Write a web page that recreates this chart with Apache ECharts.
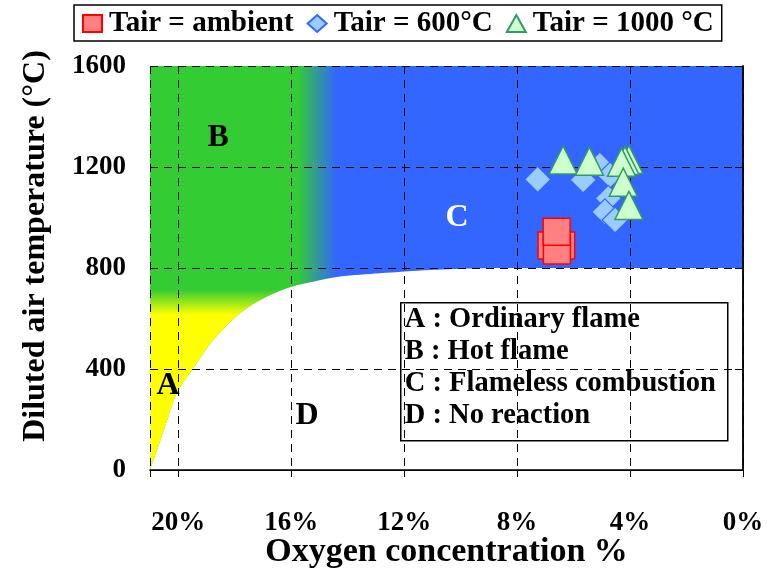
<!DOCTYPE html>
<html><head><meta charset="utf-8">
<script src="https://cdn.jsdelivr.net/npm/echarts@6/dist/echarts.min.js"></script>
<style>html,body{margin:0;padding:0;background:#fff}#c{width:773px;height:569px}</style>
</head><body><div id="c"></div>
<script>
const FONT = '"Liberation Serif","Times New Roman",serif';

// Axis ticks
const xTicks = [20, 16, 12, 8, 4, 0];
const yTicks = [0, 400, 800, 1200, 1600];

// Lower boundary of the combustion regions (O2 %, temperature °C)
const boundaryO2 = [21, 20.65, 20.35, 20.05, 19.47, 18.76, 17.81, 16.87, 15.98, 15.22, 14.27, 12.86, 11.08, 9.31, 8.0, 4, 0];
const boundaryT  = [0, 112, 211, 304, 403, 515, 621, 686, 726, 746, 766, 779, 792, 799, 800, 800, 800];
// Ordinary flame (A) part of the boundary
const ordinaryCount = 9;

// Measured points
const ambientO2 = [6.78, 6.44, 6.59, 6.60];
const ambientT  = [889, 889, 869, 944];
const t600O2 = [7.27, 5.66, 5.07, 4.71, 4.77, 4.89, 4.53];
const t600T  = [1151, 1149, 1208, 1168, 1076, 1022, 990];
const t1000O2 = [6.37, 5.44, 4.04, 4.18, 4.30, 4.24, 4.04];
const t1000T  = [1228, 1223, 1230, 1226, 1219, 1140, 1048];

// Region labels
const regionNames = ['A', 'B', 'C', 'D'];
const regionO2 = [20.36, 18.59, 10.13, 15.44];
const regionT  = [333, 1315, 998, 214];
const regionColors = ['#000', '#000', '#fff', '#000'];

const seriesNames = ['Tair = ambient', 'Tair = 600°C', 'Tair = 1000 °C'];
const boxLines = ['A : Ordinary flame', 'B : Hot flame', 'C : Flameless combustion', 'D : No reaction'];
const xTitle = 'Oxygen concentration %';
const yTitle = 'Diluted air temperature (°C)';

const zip = (a, b) => a.map((v, i) => [v, b[i]]);
const boundary = zip(boundaryO2, boundaryT);

const chart = echarts.init(document.getElementById('c'), null, {renderer: 'canvas'});
const bold = (size) => ({fontFamily: FONT, fontWeight: 'bold', fontSize: size, color: '#000'});

chart.setOption({
  animation: false,
  grid: {left: 150, right: 30, top: 66, bottom: 99, containLabel: false, outerBoundsMode: 'none'},
  legend: {
    data: seriesNames, left: 74, top: 5, padding: [4, 8, 3, 8], itemGap: 13,
    itemWidth: 19, itemHeight: 17, borderColor: '#000', borderWidth: 1.5,
    backgroundColor: '#fff', selectedMode: false,
    textStyle: Object.assign(bold(29), {padding: [2, 0, 0, 2]})
  },
  xAxis: [{
    type: 'value', min: 0, max: 21, interval: 4, inverse: true, z: 3,
    axisLine: {show: true, lineStyle: {color: '#000', width: 1.5}},
    axisTick: {show: true, length: 7, lineStyle: {color: '#000'}},
    axisLabel: Object.assign(bold(27), {margin: 40, formatter: v => xTicks.includes(v) ? v + '%' : ''}),
    splitLine: {show: true, lineStyle: {color: '#000', width: 1, type: [8, 6]}},
    name: xTitle, nameLocation: 'middle', nameGap: 65, nameMoveOverlap: false, nameTextStyle: bold(34)
  }, {
    type: 'value', min: 0, max: 21, inverse: true, position: 'top', z: 3,
    axisLine: {show: true, lineStyle: {color: '#000', width: 1}},
    axisTick: {show: false}, axisLabel: {show: false}, splitLine: {show: false}
  }],
  yAxis: [{
    type: 'value', min: 0, max: 1600, interval: 400, z: 3,
    axisLine: {show: true, lineStyle: {color: '#000', width: 1.5}},
    axisTick: {show: true, length: 8, lineStyle: {color: '#000'}},
    axisLabel: Object.assign(bold(27), {margin: 24, formatter: v => yTicks.includes(v) ? String(v) : ''}),
    splitLine: {show: true, lineStyle: {color: '#000', width: 1, type: [8, 6]}}
  }, {
    type: 'value', min: 0, max: 1600, position: 'right', z: 3,
    axisLine: {show: true, lineStyle: {color: '#000', width: 1.5}},
    axisTick: {show: false}, axisLabel: {show: false}, splitLine: {show: false}
  }],
  series: [{
    type: 'line', name: 'bgTop', data: boundary, z: 1, silent: true,
    showSymbol: false, smooth: 0.3, lineStyle: {width: 0, opacity: 0},
    areaStyle: {origin: 'end', opacity: 1, color: new echarts.graphic.LinearGradient(0, 0, 1, 0, [
      {offset: 0, color: '#33CC33'}, {offset: 0.248, color: '#33CC33'},
      {offset: 0.315, color: '#3366FF'}, {offset: 1, color: '#3366FF'}])}
  }, {
    type: 'line', name: 'bgYellow', data: boundary.slice(0, ordinaryCount), z: 1, silent: true,
    showSymbol: false, smooth: 0.3, lineStyle: {width: 0, opacity: 0},
    areaStyle: {origin: 'end', opacity: 1, color: new echarts.graphic.LinearGradient(0, 0, 0, 1, [
      {offset: 0, color: 'rgba(255,255,0,0)'}, {offset: 0.554, color: 'rgba(255,255,0,0)'},
      {offset: 0.616, color: '#FFFF00'}, {offset: 1, color: '#FFFF00'}])}
  }, {
    type: 'scatter', name: seriesNames[0], data: zip(ambientO2, ambientT), z: 5,
    symbol: 'rect', symbolSize: 27,
    itemStyle: {color: '#FF8080', borderColor: '#FF0000', borderWidth: 1.5, opacity: 1}
  }, {
    type: 'scatter', name: seriesNames[1], data: zip(t600O2, t600T), z: 5,
    symbol: 'diamond', symbolSize: 26,
    itemStyle: {color: '#99CCFF', borderColor: '#3366FF', borderWidth: 1.2, opacity: 1}
  }, {
    type: 'scatter', name: seriesNames[2], data: zip(t1000O2, t1000T), z: 5,
    symbol: 'triangle', symbolSize: 28,
    itemStyle: {color: '#CCFFCC', borderColor: '#339966', borderWidth: 1.5, opacity: 1}
  }, {
    type: 'scatter', name: 'regions', z: 6, silent: true, symbolSize: 1,
    itemStyle: {color: 'rgba(0,0,0,0)', opacity: 1},
    data: regionNames.map((n, i) => ({
      value: [regionO2[i], regionT[i]],
      label: {show: true, position: 'inside', formatter: n,
        fontFamily: FONT, fontWeight: 'bold', fontSize: 32, color: regionColors[i]}
    }))
  }],
  graphic: [{
    type: 'text', x: 36, y: 246, rotation: Math.PI / 2, z: 10,
    style: {text: yTitle, font: 'bold 32px ' + FONT, fill: '#000', align: 'center', verticalAlign: 'middle'}
  }, {
    type: 'group', left: 400, top: 302, z: 10,
    children: [{
      type: 'rect', shape: {x: 0, y: 0, width: 327, height: 138},
      style: {fill: '#fff', stroke: '#000', lineWidth: 1.5}
    }, {
      type: 'text', x: 4, y: 1,
      style: {text: boxLines.join('\n'), font: 'bold 28.5px ' + FONT, lineHeight: 32, fill: '#000'}
    }]
  }]
});
</script></body></html>
